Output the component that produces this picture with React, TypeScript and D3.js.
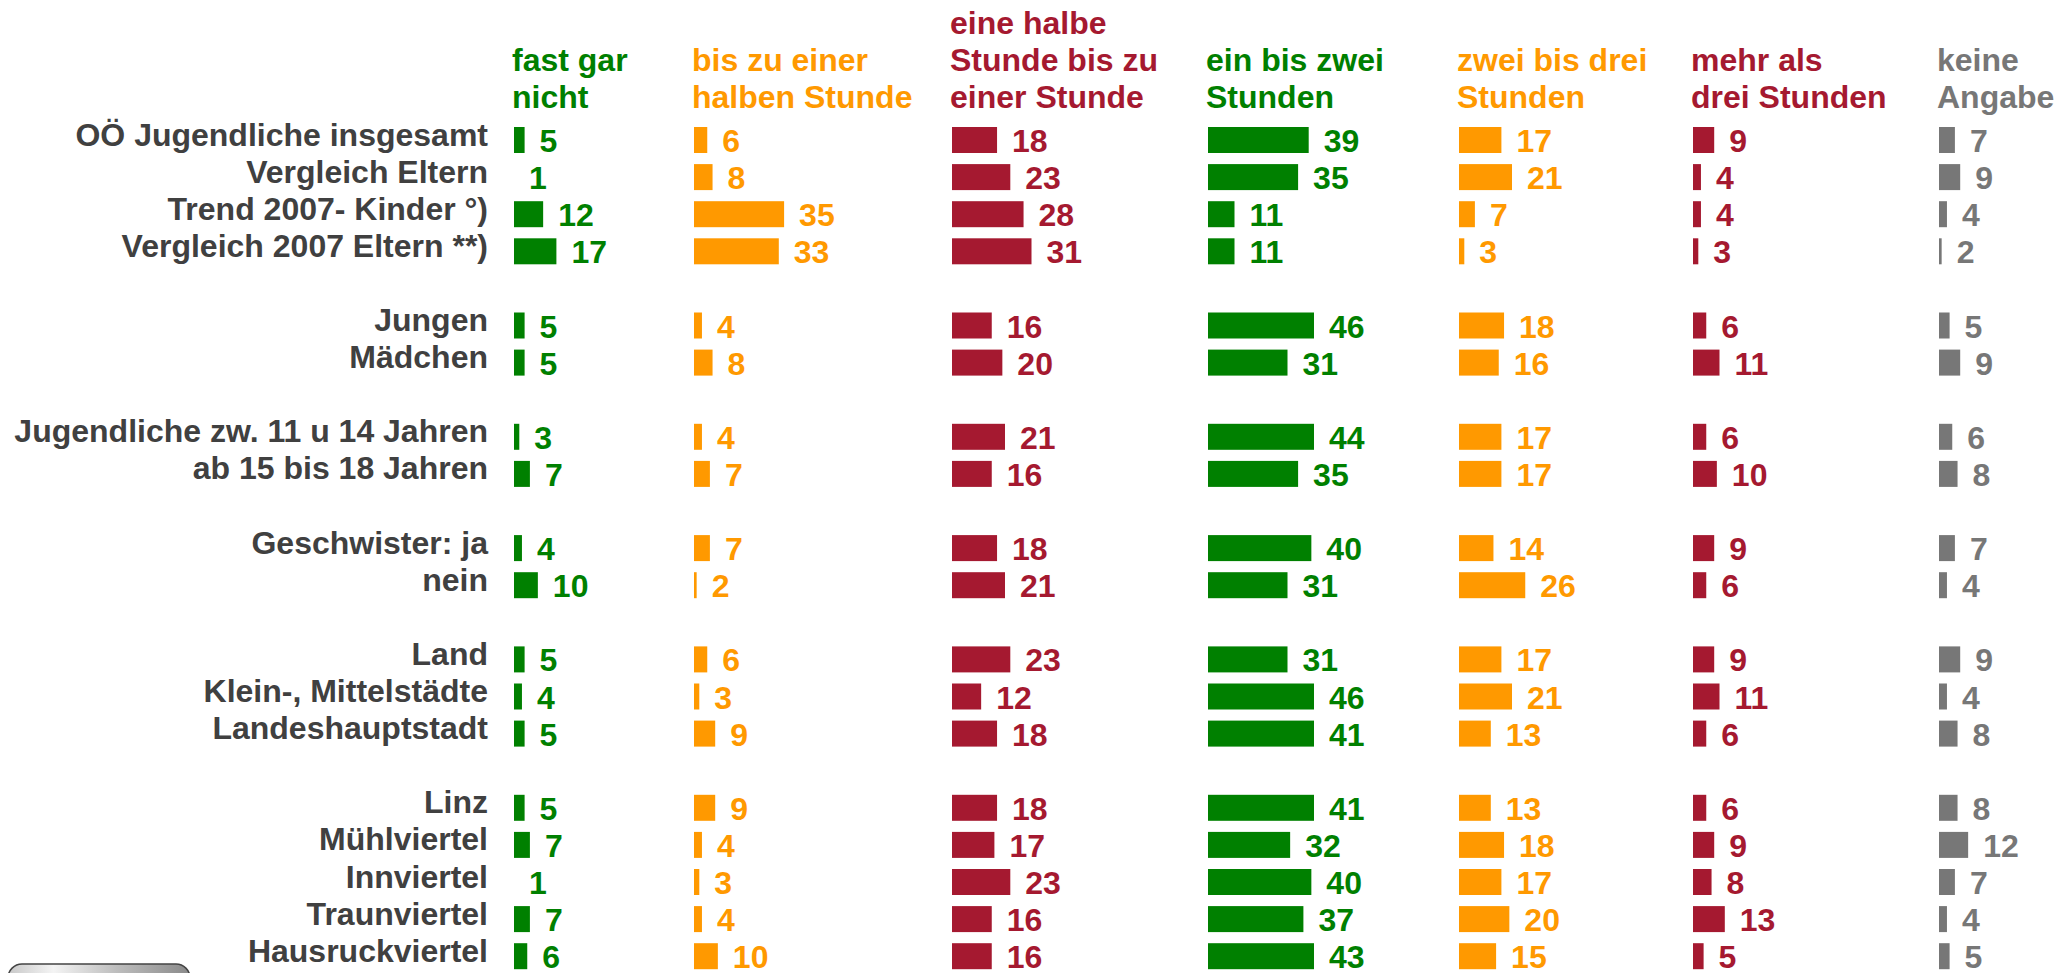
import React from "react";
import * as d3 from "d3";

const rowLabels = [
  "OÖ Jugendliche insgesamt",
  "Vergleich Eltern",
  "Trend 2007- Kinder °)",
  "Vergleich 2007 Eltern **)",
  "Jungen",
  "Mädchen",
  "Jugendliche zw. 11 u 14 Jahren",
  "ab 15 bis 18 Jahren",
  "Geschwister: ja",
  "nein",
  "Land",
  "Klein-, Mittelstädte",
  "Landeshauptstadt",
  "Linz",
  "Mühlviertel",
  "Innviertel",
  "Traunviertel",
  "Hausruckviertel",
];

// group index of each row (an empty slot separates groups)
const rowGroups = [0, 0, 0, 0, 1, 1, 2, 2, 3, 3, 4, 4, 4, 5, 5, 5, 5, 5];

const columnHeaders = [
  ["fast gar", "nicht"],
  ["bis zu einer", "halben Stunde"],
  ["eine halbe", "Stunde bis zu", "einer Stunde"],
  ["ein bis zwei", "Stunden"],
  ["zwei bis drei", "Stunden"],
  ["mehr als", "drei Stunden"],
  ["keine", "Angabe"],
];

const fastGarNicht = [5, 1, 12, 17, 5, 5, 3, 7, 4, 10, 5, 4, 5, 5, 7, 1, 7, 6];
const bisHalbeStunde = [6, 8, 35, 33, 4, 8, 4, 7, 7, 2, 6, 3, 9, 9, 4, 3, 4, 10];
const halbeBisEineStunde = [18, 23, 28, 31, 16, 20, 21, 16, 18, 21, 23, 12, 18, 18, 17, 23, 16, 16];
const einBisZweiStunden = [39, 35, 11, 11, 46, 31, 44, 35, 40, 31, 31, 46, 41, 41, 32, 40, 37, 43];
const zweiBisDreiStunden = [17, 21, 7, 3, 18, 16, 17, 17, 14, 26, 17, 21, 13, 13, 18, 17, 20, 15];
const mehrAlsDreiStunden = [9, 4, 4, 3, 6, 11, 6, 10, 9, 6, 9, 11, 6, 6, 9, 8, 13, 5];
const keineAngabe = [7, 9, 4, 2, 5, 9, 6, 8, 7, 4, 9, 4, 8, 8, 12, 7, 4, 5];

const series = [
  fastGarNicht,
  bisHalbeStunde,
  halbeBisEineStunde,
  einBisZweiStunden,
  zweiBisDreiStunden,
  mehrAlsDreiStunden,
  keineAngabe,
];

const GREEN = "#008000";
const ORANGE = "#FF9900";
const RED = "#A51930";
const GREY = "#777777";
const columnColors = [GREEN, ORANGE, RED, GREEN, ORANGE, RED, GREY];

const W = 2059;
const H = 973;
const FONT = "'Liberation Sans', Arial, Helvetica, sans-serif";
const FS = 32;

export default function App() {
  const colIdx = d3.range(series.length);
  const colX = d3
    .scaleOrdinal<number, number>()
    .domain(colIdx)
    .range([514, 694, 952, 1208, 1459, 1693, 1939]);

  const slots = rowLabels.map((_, i) => i + rowGroups[i]);
  const nSlots = (d3.max(slots) as number) + 1;
  const y = d3
    .scaleLinear()
    .domain([0, nSlots - 1])
    .range([140, 140 + (nSlots - 1) * 37.1]);
  const barH = 26;

  const w = d3.scaleLinear().domain([1, 41]).range([0, 106]).clamp(true);

  const headerLast = 108;
  const headerPitch = 36.8;

  return (
    <svg
      width={W}
      height={H}
      style={{ position: "absolute", left: 0, top: 0, display: "block", background: "#fff" }}
      fontFamily={FONT}
      fontWeight="bold"
    >
      <defs>
        <linearGradient id="btnGrad" x1="0" x2="1" y1="0" y2="0">
          <stop offset="0" stopColor="#c8c8c8" />
          <stop offset="0.25" stopColor="#f4f4f4" />
          <stop offset="0.6" stopColor="#bdbdbd" />
          <stop offset="1" stopColor="#8a8a8a" />
        </linearGradient>
      </defs>

      {/* column headers */}
      {colIdx.map((c) => {
        const lines = columnHeaders[c];
        return (
          <text key={`h${c}`} fill={columnColors[c]} fontSize={FS}>
            {lines.map((ln, k) => (
              <tspan
                key={k}
                x={colX(c) - 2}
                y={headerLast - (lines.length - 1 - k) * headerPitch}
              >
                {ln}
              </tspan>
            ))}
          </text>
        );
      })}

      {/* row labels */}
      {rowLabels.map((lab, i) => (
        <text
          key={`r${i}`}
          x={488}
          y={y(slots[i]) + 5.5}
          textAnchor="end"
          fill="#404040"
          fontSize={FS}
        >
          {lab}
        </text>
      ))}

      {/* bars and values */}
      {colIdx.map((c) =>
        series[c].map((v, i) => {
          const cy = y(slots[i]);
          const bw = w(v);
          return (
            <g key={`b${c}-${i}`}>
              {bw > 0 && (
                <rect
                  x={colX(c)}
                  y={cy - barH / 2}
                  width={bw}
                  height={barH}
                  fill={columnColors[c]}
                />
              )}
              <text
                x={colX(c) + bw + 15}
                y={cy + 12}
                fill={columnColors[c]}
                fontSize={FS}
              >
                {v}
              </text>
            </g>
          );
        })
      )}

      {/* partially visible button at the bottom left */}
      <rect
        x={8}
        y={964}
        width={182}
        height={40}
        rx={14}
        fill="url(#btnGrad)"
        stroke="#444"
        strokeWidth={1.5}
      />
    </svg>
  );
}
